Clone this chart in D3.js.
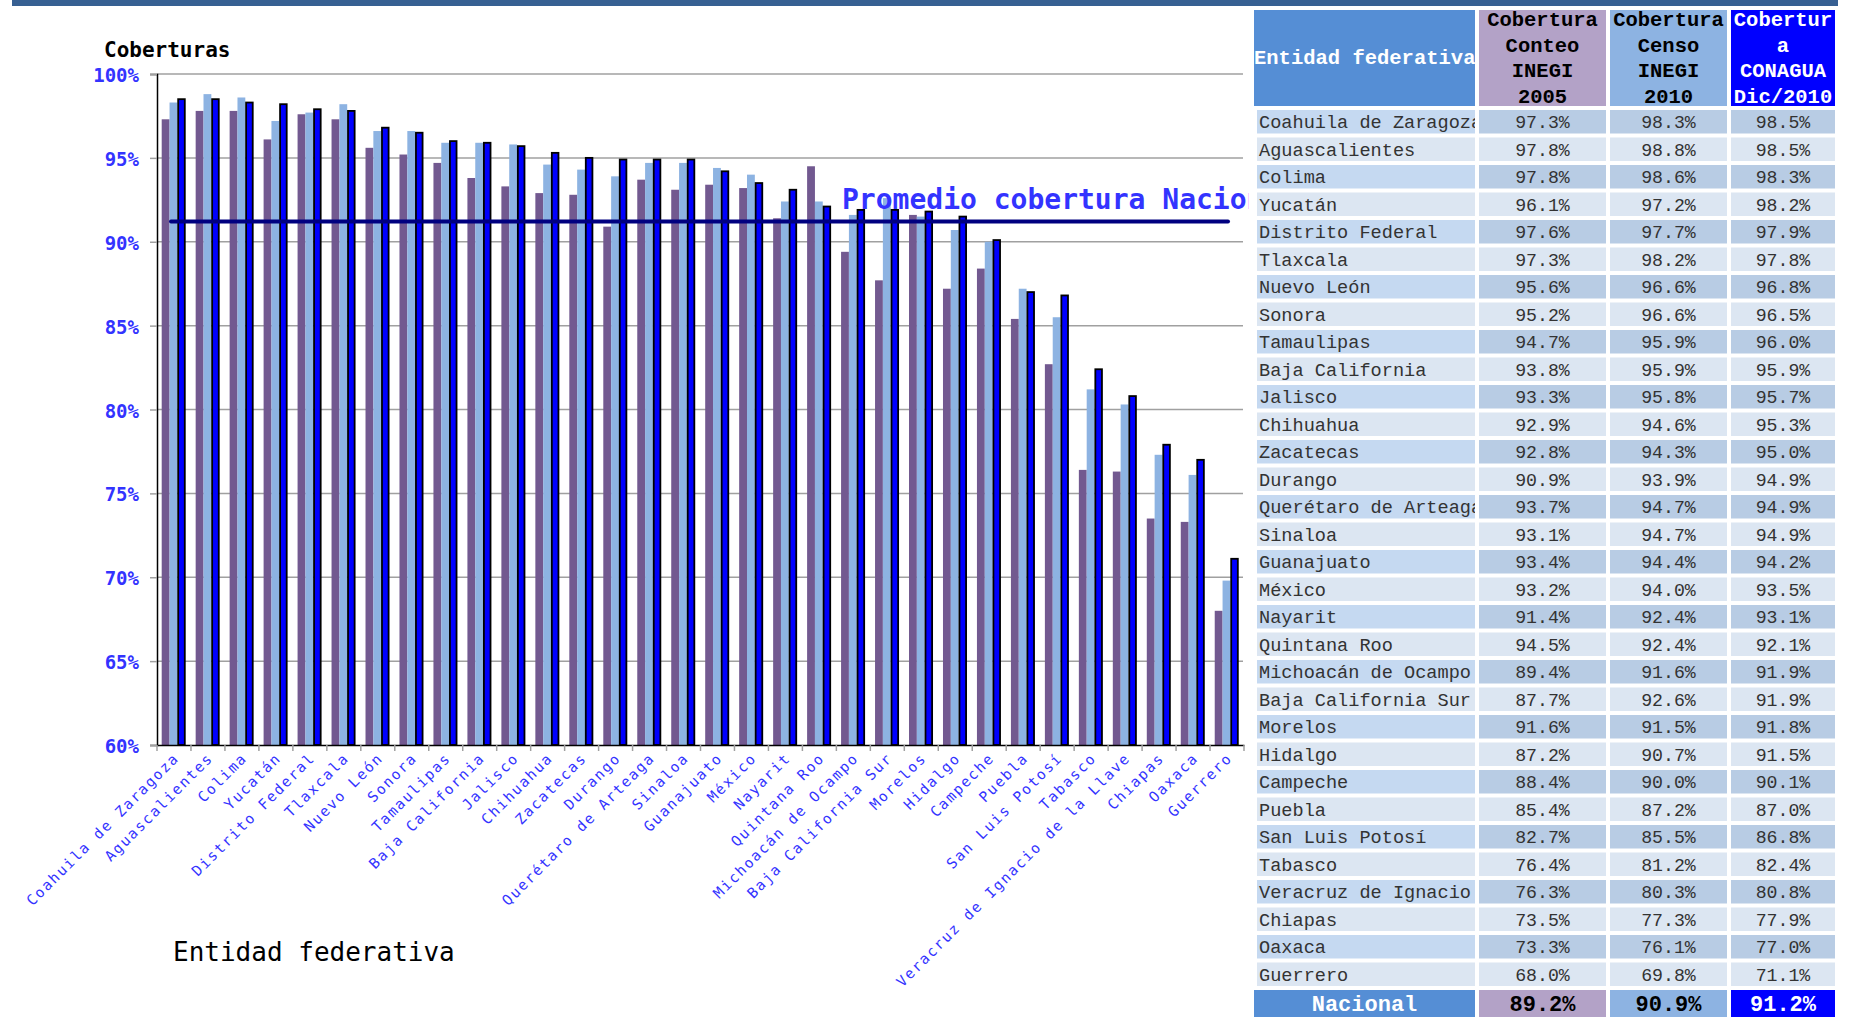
<!DOCTYPE html>
<html>
<head>
<meta charset="utf-8">
<script src="https://cdn.jsdelivr.net/npm/d3@7"></script>
<style>
	body { margin: 0; background: #fff; }
	svg { display: block; }
</style>
</head>
<body>
<svg id="body" width="1849" height="1017"></svg>
<script>
let body = d3.select("#body")

//Chart values
let categories = ["Coahuila de Zaragoza", "Aguascalientes", "Colima", "Yucatán", "Distrito Federal", "Tlaxcala",
	"Nuevo León", "Sonora", "Tamaulipas", "Baja California", "Jalisco", "Chihuahua", "Zacatecas", "Durango",
	"Querétaro de Arteaga", "Sinaloa", "Guanajuato", "México", "Nayarit", "Quintana Roo", "Michoacán de Ocampo",
	"Baja California Sur", "Morelos", "Hidalgo", "Campeche", "Puebla", "San Luis Potosí", "Tabasco",
	"Veracruz de Ignacio de la Llave", "Chiapas", "Oaxaca", "Guerrero"]
//names as the table shows them (its first column is narrower)
let tableNames = categories.map(d => d === "Veracruz de Ignacio de la Llave" ? "Veracruz de Ignacio" : d)
let conteo2005 = [97.3, 97.8, 97.8, 96.1, 97.6, 97.3, 95.6, 95.2, 94.7, 93.8, 93.3, 92.9, 92.8, 90.9, 93.7, 93.1,
	93.4, 93.2, 91.4, 94.5, 89.4, 87.7, 91.6, 87.2, 88.4, 85.4, 82.7, 76.4, 76.3, 73.5, 73.3, 68.0]
let censo2010 = [98.3, 98.8, 98.6, 97.2, 97.7, 98.2, 96.6, 96.6, 95.9, 95.9, 95.8, 94.6, 94.3, 93.9, 94.7, 94.7,
	94.4, 94.0, 92.4, 92.4, 91.6, 92.6, 91.5, 90.7, 90.0, 87.2, 85.5, 81.2, 80.3, 77.3, 76.1, 69.8]
let conagua2010 = [98.5, 98.5, 98.3, 98.2, 97.9, 97.8, 96.8, 96.5, 96.0, 95.9, 95.7, 95.3, 95.0, 94.9, 94.9, 94.9,
	94.2, 93.5, 93.1, 92.1, 91.9, 91.9, 91.8, 91.5, 90.1, 87.0, 86.8, 82.4, 80.8, 77.9, 77.0, 71.1]
let yTicks = [60, 65, 70, 75, 80, 85, 90, 95, 100]
let promedio = 91.2
let nacional = [89.2, 90.9, 91.2]
let seriesNames = ["conteo", "censo", "conagua"]
let headerLines = [
	["Cobertura", "Conteo", "INEGI", "2005"],
	["Cobertura", "Censo", "INEGI", "2010"],
	["Cobertur", "a", "CONAGUA", "Dic/2010"]]

let series = [conteo2005, censo2010, conagua2010]
let colors = ["#725990", "#8db3e2", "#0000ff"]
let blueText = "#3333ff"
let mono = "DejaVu Sans Mono, monospace"
let courier = "Liberation Mono, Courier New, monospace"

//Set dimensions of the plot
let plotLeft = 157, plotRight = 1244, plotTop = 74, plotBottom = 745

//Top banner
body.append("rect")
	.attr("x", 12).attr("y", 0)
	.attr("width", 1826).attr("height", 6)
	.attr("fill", "#376092")

//set ranges
let yscale = d3.scaleLinear()
	.domain([60, 100])
	.range([plotBottom, plotTop])

let xscale = d3.scaleBand()
	.domain(categories)
	.range([plotLeft, plotRight])

let xinner = d3.scaleBand()
	.domain(seriesNames)
	.range([4.7, 28.2])

//Add gridlines
body.append("g").selectAll("line")
	.data(yTicks.slice(1))
	.enter()
	.append("line")
	.attr("x1", plotLeft).attr("x2", plotRight - 1)
	.attr("y1", d => yscale(d)).attr("y2", d => yscale(d))
	.attr("stroke", "#a0a0a0")
	.attr("stroke-width", 1.5)

//Add the y axis
let yAxis = body.append("g")
	.attr("transform", "translate(" + plotLeft + ", 0)")
	.call(d3.axisLeft(yscale).tickValues(yTicks).tickSize(7).tickFormat(d => d + "%"))
yAxis.select(".domain").attr("stroke", "#000").attr("stroke-width", 1.5)
yAxis.selectAll(".tick line").attr("stroke", "#a0a0a0").attr("stroke-width", 1.5)
yAxis.selectAll(".tick text")
	.attr("x", -18)
	.attr("dy", "0.4em")
	.attr("fill", blueText)
	.style("font-family", mono)
	.style("font-weight", "bold")
	.style("font-size", "19px")

//Add bars for each series
series.forEach(function(values, s) {
	body.append("g").selectAll("rect")
		.data(values)
		.enter()
		.append("rect")
		.attr("x", (d, i) => xscale(categories[i]) + xinner(seriesNames[s]) + (s === 2 ? 0.8 : 0))
		.attr("width", xinner.bandwidth() - (s === 2 ? 1.2 : 0))
		.attr("y", d => yscale(d))
		.attr("height", d => yscale(60) - yscale(d))
		.attr("fill", colors[s])
		.attr("stroke", s === 2 ? "#000" : "none")
		.attr("stroke-width", s === 2 ? 1.8 : 0)
})

//Add the x axis
let xAxis = body.append("g")
	.attr("transform", "translate(0, " + plotBottom + ")")
	.call(d3.axisBottom(xscale).tickSize(0).tickFormat(""))
xAxis.select(".domain").attr("stroke", "#000").attr("stroke-width", 1.5)

//tick marks between the groups
body.append("g").selectAll("line")
	.data(categories)
	.enter()
	.append("line")
	.attr("x1", d => xscale(d)).attr("x2", d => xscale(d))
	.attr("y1", plotBottom).attr("y2", plotBottom + 6)
	.attr("stroke", "#a0a0a0")
	.attr("stroke-width", 1.5)
body.append("line")
	.attr("x1", plotRight).attr("x2", plotRight)
	.attr("y1", plotBottom).attr("y2", plotBottom + 6)
	.attr("stroke", "#a0a0a0")
	.attr("stroke-width", 1.5)

//Add category labels
let labelX = d => xscale(d) + xscale.bandwidth() / 2 + 6
let labelY = plotBottom + 14
body.append("g").selectAll("text")
	.data(categories)
	.enter()
	.append("text")
	.attr("x", labelX)
	.attr("y", labelY)
	.attr("transform", d => "rotate(-45," + labelX(d) + "," + labelY + ")")
	.attr("text-anchor", "end")
	.attr("fill", blueText)
	.style("font-family", mono)
	.style("font-size", "14.5px")
	.style("letter-spacing", "1.7px")
	.text(d => d)

//Add the average line
body.append("line")
	.attr("x1", 171).attr("x2", 1228)
	.attr("y1", yscale(promedio)).attr("y2", yscale(promedio))
	.attr("stroke", "#000080")
	.attr("stroke-width", 4)
	.attr("stroke-linecap", "round")

//the label runs under the table, so cut it at the table edge
body.append("clipPath").attr("id", "chartClip")
	.append("rect").attr("x", 0).attr("y", 0).attr("width", 1249).attr("height", 1017)

body.append("text")
	.attr("x", 842)
	.attr("y", yscale(promedio) - 13)
	.attr("clip-path", "url(#chartClip)")
	.attr("fill", blueText)
	.style("font-family", mono)
	.style("font-weight", "bold")
	.style("font-size", "28px")
	.text("Promedio cobertura Nacional")

//Add axis titles
body.append("text")
	.attr("x", 104).attr("y", 57)
	.style("font-family", mono)
	.style("font-weight", "bold")
	.style("font-size", "21px")
	.text("Coberturas")

body.append("text")
	.attr("x", 173).attr("y", 961)
	.style("font-family", mono)
	.style("font-size", "26px")
	.text("Entidad federativa")

//Table on the right
let cols = [{x: 1254, w: 221}, {x: 1479, w: 127}, {x: 1610, w: 117}, {x: 1731, w: 104}]
let headerColors = ["#558ed5", "#b3a2c7", "#8db3e2", "#0000ff"]
let headerText = ["#fff", "#000", "#000", "#fff"]
let rowTop = i => 110 + i * 27.5
let fmt = d => d3.format(".1f")(d) + "%"

body.append("clipPath").attr("id", "nameClip")
	.append("rect").attr("x", 1254).attr("y", 0).attr("width", 221).attr("height", 1017)

let table = body.append("g")

//header cells
table.selectAll(".head")
	.data(cols)
	.enter()
	.append("rect")
	.attr("x", d => d.x).attr("y", 10)
	.attr("width", d => d.w).attr("height", 96)
	.attr("fill", (d, i) => headerColors[i])

table.append("text")
	.attr("x", 1254).attr("y", 64)
	.attr("clip-path", "url(#nameClip)")
	.attr("fill", "#fff")
	.style("font-family", courier)
	.style("font-weight", "bold")
	.style("font-size", "20.5px")
	.text("Entidad federativa")

headerLines.forEach(function(lines, c) {
	table.append("g").selectAll("text")
		.data(lines)
		.enter()
		.append("text")
		.attr("x", cols[c + 1].x + cols[c + 1].w / 2)
		.attr("y", (d, i) => 26 + i * 25.6)
		.attr("text-anchor", "middle")
		.attr("fill", headerText[c + 1])
		.style("font-family", courier)
		.style("font-weight", "bold")
		.style("font-size", "20.5px")
		.text(d => d)
})

//data rows
tableNames.forEach(function(name, i) {
	let odd = i % 2 === 0
	let row = table.append("g")
	row.append("rect")
		.attr("x", 1257).attr("y", rowTop(i))
		.attr("width", 218).attr("height", 23.5)
		.attr("fill", odd ? "#c5d9f1" : "#dce6f2")
	row.append("text")
		.attr("x", 1259).attr("y", rowTop(i) + 18)
		.attr("clip-path", "url(#nameClip)")
		.attr("fill", "#333")
		.style("font-family", courier)
		.style("font-size", "18.6px")
		.text(name)
	series.forEach(function(values, s) {
		let c = cols[s + 1]
		row.append("rect")
			.attr("x", c.x).attr("y", rowTop(i))
			.attr("width", c.w).attr("height", 23.5)
			.attr("fill", odd ? "#b8cce4" : "#dce6f2")
		row.append("text")
			.attr("x", c.x + c.w / 2).attr("y", rowTop(i) + 18)
			.attr("text-anchor", "middle")
			.attr("fill", "#333")
			.style("font-family", courier)
			.style("font-size", "18.2px")
			.text(fmt(values[i]))
	})
})

//Nacional row
let natTop = rowTop(categories.length)
table.selectAll(".nat")
	.data(cols)
	.enter()
	.append("rect")
	.attr("x", d => d.x).attr("y", natTop)
	.attr("width", d => d.w).attr("height", 27)
	.attr("fill", (d, i) => headerColors[i])

table.selectAll(".natText")
	.data(["Nacional"].concat(nacional.map(fmt)))
	.enter()
	.append("text")
	.attr("x", (d, i) => cols[i].x + cols[i].w / 2)
	.attr("y", natTop + 21)
	.attr("text-anchor", "middle")
	.attr("fill", (d, i) => headerText[i])
	.style("font-family", courier)
	.style("font-weight", "bold")
	.style("font-size", "22px")
	.text(d => d)
</script>
</body>
</html>
